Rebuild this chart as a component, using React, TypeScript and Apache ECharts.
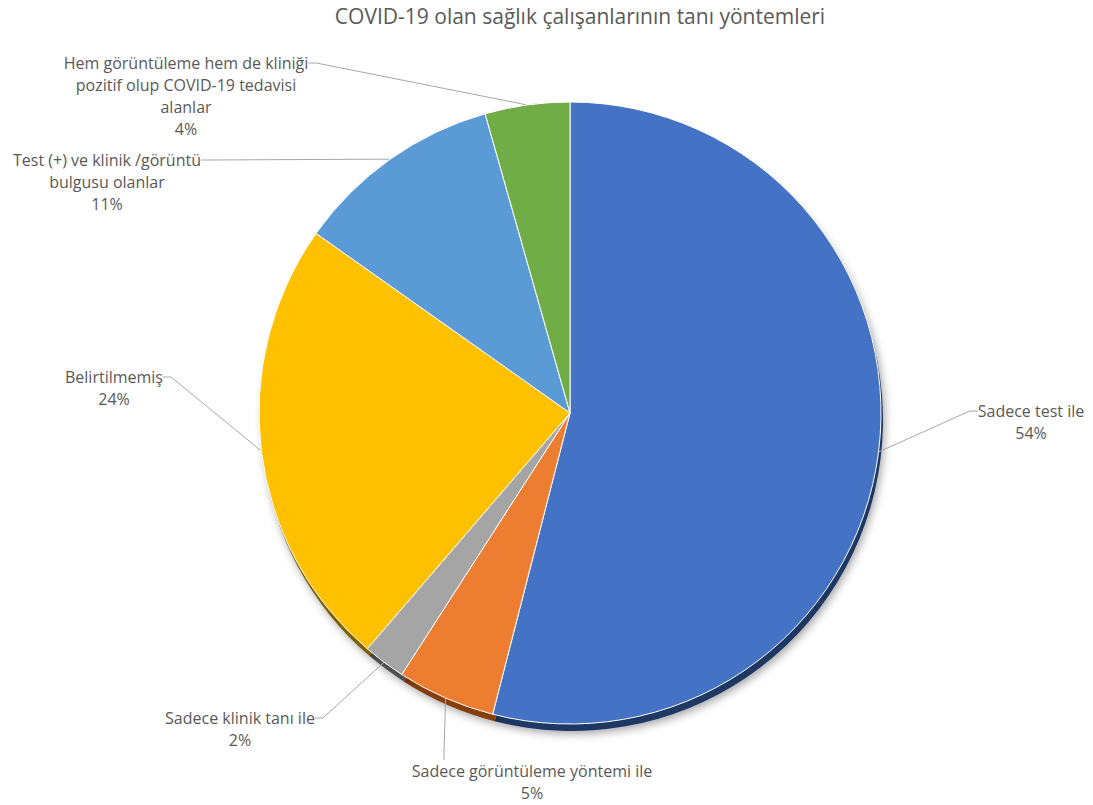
import React, { useEffect, useRef } from "react";
import * as echarts from "echarts";

const titleText = "COVID-19 olan sağlık çalışanlarının tanı yöntemleri";
const categories = [
  "Sadece test ile",
  "Sadece görüntüleme yöntemi ile",
  "Sadece klinik tanı ile",
  "Belirtilmemiş",
  "Test (+) ve klinik /görüntü\nbulgusu olanlar",
  "Hem görüntüleme hem de kliniği\npozitif olup COVID-19 tedavisi\nalanlar",
];
const values = [54.0, 5.1, 2.2, 23.5, 10.8, 4.4];
const colors = ["#4472C4", "#ED7D31", "#A5A5A5", "#FFC000", "#5B9BD5", "#70AD47"];
const darkColors = ["#1F3864", "#843C0C", "#4F4F4F", "#7F6000", "#1F4E79", "#375623"];

// label placement: text centre x, first-line centre y, number of lines, leader side
const LH = 22;
type Place = { x: number; y: number; n: number; top?: boolean; lineX?: number };
const labelPlace: Place[] = [
  { x: 1031, y: 411, n: 2 },
  { x: 532, y: 771, n: 2, top: true, lineX: 444 },
  { x: 240, y: 718, n: 2 },
  { x: 114, y: 377, n: 2 },
  { x: 107, y: 160, n: 3 },
  { x: 186, y: 63, n: 4 },
];

function layoutFor(p: Place) {
  if (p.top) {
    // rect centred at lineX horizontally, top edge just above the first line
    const padLeft = 2 * (p.x - (p.lineX as number));
    return {
      x: p.lineX as number,
      y: p.y - LH / 2,
      pad: [0, 0, 0, padLeft],
      width: 300,
    };
  }
  const P = LH * (p.n - 1);
  return { x: p.x, y: p.y - P - LH / 2, pad: [P, 0, 0, 0], width: undefined };
}

export default function App() {
  const ref = useRef<HTMLDivElement>(null);
  useEffect(() => {
    document.body.style.margin = "0";
    const chart = echarts.init(ref.current!, null, { renderer: "svg" });
    const font = "'Open Sans', Lato, sans-serif";
    const cx = 570;
    const cy = 413;
    const r = 311;
    chart.setOption({
      animation: false,
      backgroundColor: "#ffffff",
      graphic: [
        {
          type: "text",
          x: 580,
          y: 16,
          style: {
            text: titleText,
            fontFamily: font,
            fontSize: 21,
            fill: "#595959",
            textAlign: "center",
            textVerticalAlign: "middle",
          },
        },
      ],
      series: [
        {
          type: "pie",
          silent: true,
          z: 1,
          center: [cx + 2, cy + 7],
          radius: r,
          startAngle: 90,
          clockwise: true,
          label: { show: false },
          labelLine: { show: false },
          itemStyle: {
            shadowBlur: 8,
            shadowColor: "rgba(0,0,0,0.35)",
            shadowOffsetX: 2,
            shadowOffsetY: 3,
          },
          data: values.map((v, i) => ({
            value: v,
            name: categories[i],
            itemStyle: { color: darkColors[i] },
          })),
        },
        {
          type: "pie",
          z: 2,
          center: [cx, cy],
          radius: r,
          startAngle: 90,
          clockwise: true,
          percentPrecision: 0,
          itemStyle: { borderColor: "#ffffff", borderWidth: 1 },
          label: {
            show: true,
            position: "outside",
            formatter: "{b}\n{d}%",
            fontFamily: font,
            fontSize: 16,
            lineHeight: LH,
            color: "#595959",
            align: "center",
            overflow: "none",
          },
          labelLine: {
            show: true,
            length: 20,
            length2: 8,
            minTurnAngle: 20,
            lineStyle: { color: "#A6A6A6", width: 1 },
          },
          labelLayout: (params: any) => {
            const l = layoutFor(labelPlace[params.dataIndex]);
            return {
              x: l.x,
              y: l.y,
              align: "center",
              verticalAlign: "top",
            };
          },
          data: values.map((v, i) => {
            const l = layoutFor(labelPlace[i]);
            const label: any = { padding: l.pad };
            if (l.width) label.width = l.width;
            return {
              value: v,
              name: categories[i],
              itemStyle: { color: colors[i] },
              label,
            };
          }),
        },
      ],
    });
    return () => chart.dispose();
  }, []);
  return <div ref={ref} style={{ width: 1093, height: 805 }} />;
}
